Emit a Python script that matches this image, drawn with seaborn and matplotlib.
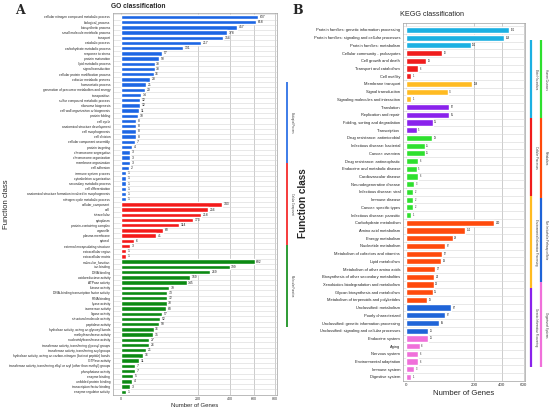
import numpy as np
import matplotlib
matplotlib.use("Agg")
import matplotlib.pyplot as plt
from matplotlib.lines import Line2D
import seaborn as sns

# ---------------- GO data ----------------
go_bp_terms = [
    "cellular nitrogen compound metabolic process", "biological_process", "biosynthetic process",
    "small molecule metabolic process", "transport", "catabolic process",
    "carbohydrate metabolic process", "response to stress", "protein maturation",
    "lipid metabolic process", "signal transduction", "cellular protein modification process",
    "cofactor metabolic process", "homeostatic process",
    "generation of precursor metabolites and energy", "transposition",
    "sulfur compound metabolic process", "ribosome biogenesis",
    "cell wall organization or biogenesis", "protein folding", "cell cycle",
    "anatomical structure development", "cell morphogenesis", "cell division",
    "cellular component assembly", "protein targeting", "chromosome segregation",
    "chromosome organization", "membrane organization", "cell adhesion",
    "immune system process", "cytoskeleton organization", "secondary metabolic process",
    "cell differentiation", "anatomical structure formation involved in morphogenesis",
    "nitrogen cycle metabolic process",
]
go_bp_counts = [637, 618, 457, 378, 354, 217, 131, 57, 50, 38, 38, 36, 28, 21, 20, 14,
                12, 12, 11, 10, 8, 8, 8, 8, 7, 4, 3, 3, 3, 2, 1, 1, 1, 1, 1, 1]

go_cc_terms = [
    "cellular_component", "cell", "intracellular", "cytoplasm", "protein-containing complex",
    "organelle", "plasma membrane", "cytosol", "external encapsulating structure",
    "extracellular region", "extracellular matrix",
]
go_cc_counts = [343, 256, 218, 173, 114, 60, 41, 6, 3, 1, 1]

go_mf_terms = [
    "molecular_function", "ion binding", "DNA binding", "oxidoreductase activity",
    "ATPase activity", "kinase activity", "DNA-binding transcription factor activity",
    "RNA binding", "lyase activity", "isomerase activity", "ligase activity",
    "structural molecule activity", "peptidase activity",
    "hydrolase activity, acting on glycosyl bonds", "methyltransferase activity",
    "nucleotidyltransferase activity", "transferase activity, transferring glycosyl groups",
    "transferase activity, transferring acyl groups",
    "hydrolase activity, acting on carbon-nitrogen (but not peptide) bonds",
    "GTPase activity",
    "transferase activity, transferring alkyl or aryl (other than methyl) groups",
    "phosphatase activity", "enzyme binding", "unfolded protein binding",
    "transcription factor binding", "enzyme regulator activity",
]
go_mf_counts = [602, 399, 269, 159, 145, 79, 73, 72, 70, 68, 57, 52, 50, 36, 35, 27, 26,
                21, 16, 11, 7, 7, 5, 4, 3, 1]

go_groups = ["Biological Process", "Cellular Component", "Molecular Function"]
go_colors = ["#1c66e4", "#f41a1a", "#0b8a12"]

# ---------------- KEGG data ----------------
kegg_terms = [
    "Protein families: genetic information processing",
    "Protein families: signaling and cellular processes",
    "Protein families: metabolism",
    "Cellular community - prokaryotes", "Cell growth and death", "Transport and catabolism",
    "Cell motility",
    "Membrane transport", "Signal transduction", "Signaling molecules and interaction",
    "Translation", "Replication and repair", "Folding, sorting and degradation", "Transcription",
    "Drug resistance: antimicrobial", "Infectious disease: bacterial", "Cancer: overview",
    "Drug resistance: antineoplastic", "Endocrine and metabolic disease",
    "Cardiovascular disease", "Neurodegenerative disease", "Infectious disease: viral",
    "Immune disease", "Cancer: specific types", "Infectious disease: parasitic",
    "Carbohydrate metabolism", "Amino acid metabolism", "Energy metabolism",
    "Nucleotide metabolism", "Metabolism of cofactors and vitamins", "Lipid metabolism",
    "Metabolism of other amino acids", "Biosynthesis of other secondary metabolites",
    "Xenobiotics biodegradation and metabolism", "Glycan biosynthesis and metabolism",
    "Metabolism of terpenoids and polyketides",
    "Unclassified: metabolism", "Poorly characterized",
    "Unclassified: genetic information processing",
    "Unclassified: signaling and cellular processes",
    "Endocrine system", "Aging", "Nervous system", "Environmental adaptation",
    "Immune system", "Digestive system",
]
kegg_counts = [461, 419, 181, 56, 18, 6, 1, 188, 75, 1, 82, 81, 31, 5, 29, 15, 15, 6, 5, 6,
               3, 2, 2, 2, 1, 340, 152, 94, 67, 57, 53, 37, 34, 33, 31, 19, 87, 67, 48, 21,
               21, 8, 6, 6, 3, 1]
kegg_group_sizes = [3, 4, 3, 4, 11, 11, 4, 6]
kegg_groups = ["Brite Hierarchies", "Cellular Processes",
               "Environmental Information Processing", "Genetic Information Processing",
               "Human Diseases", "Metabolism", "Not Included in Pathway or Brite",
               "Organismal Systems"]
kegg_colors = ["#1cb0e2", "#f01c1c", "#ffbb22", "#8a22ec", "#2ee02e", "#ff4a0c",
               "#1f64d8", "#f070da"]

W, H = 550, 412


def fwd(x):
    x = np.asarray(x, dtype=float)
    return np.sign(x) * np.sqrt(np.abs(x))


def inv(x):
    x = np.asarray(x, dtype=float)
    return np.sign(x) * x ** 2


def px_axes(fig, l, t, r, b):
    return fig.add_axes([l / W, 1 - b / H, (r - l) / W, (b - t) / H])


def style_axes(ax, n, ylim, tick_fs):
    ax.set_xscale("function", functions=(fwd, inv))
    ax.set_ylim(*ylim)
    ax.set_yticks(np.arange(n) - 0.5, minor=True)
    ax.grid(False)
    ax.grid(axis="y", which="minor", color="#d6d6d6", lw=0.4)
    ax.grid(axis="x", which="major", color="#c4c4c4", lw=0.6)
    ax.set_axisbelow(True)
    ax.tick_params(axis="y", which="minor", length=0)
    ax.tick_params(axis="y", which="major", length=1.2, width=0.3, pad=0.8,
                   labelsize=tick_fs, colors="#222222")
    ax.tick_params(axis="x", length=0, pad=1.5)
    for s in ax.spines.values():
        s.set_color("#a0a0a0")
        s.set_linewidth(0.5)
    ax.set_xlabel("")
    ax.set_ylabel("")


def legend_segment(fig, x, y0, y1, color, label, fs, lw=1.3):
    fig.add_artist(Line2D([x / W, x / W], [1 - y0 / H, 1 - y1 / H], color=color, lw=lw,
                          transform=fig.transFigure, solid_capstyle="butt"))
    fig.text((x + 5) / W, 1 - (y0 + y1) / 2 / H, label, rotation=270, ha="center",
             va="center", fontsize=fs, color="#333333")


sns.set_theme(style="white")
plt.rcParams["font.family"] = ["Liberation Sans", "DejaVu Sans"]

fig = plt.figure(figsize=(5.5, 4.12), dpi=100)

# ---------------- Panel A: GO ----------------
go_terms = go_bp_terms + go_cc_terms + go_mf_terms
go_counts = go_bp_counts + go_cc_counts + go_mf_counts
go_bar_colors = ([go_colors[0]] * len(go_bp_terms) + [go_colors[1]] * len(go_cc_terms)
                 + [go_colors[2]] * len(go_mf_terms))

axA = px_axes(fig, 113, 13, 277, 395)
sns.barplot(x=go_counts, y=go_terms, hue=go_terms, palette=go_bar_colors, legend=False,
            orient="h", width=0.85, saturation=1, ax=axA)
style_axes(axA, len(go_terms), (len(go_terms) - 1 + 0.6, -0.75), 2.3)
axA.set_xlim(-2.16, 822)
axA.set_xticks([0, 200, 400, 600, 800])
axA.tick_params(axis="x", labelsize=2.6, colors="#333333")
for c in axA.containers:
    axA.bar_label(c, padding=1.2, fontsize=2.4, color="#222222")
axA.set_xlabel("Number of Genes", fontsize=4.3, labelpad=1.5)

fig.text(138 / W, 1 - 6 / H, "GO classification", fontsize=4.8, fontweight="bold",
         ha="center", va="center")
fig.text(20 / W, 1 - 11 / H, "A", fontsize=9, fontweight="bold", family="DejaVu Serif",
         ha="center", va="center")
fig.text(6 / W, 1 - 204 / H, "Function class", fontsize=5.6, rotation=90,
         ha="center", va="center")

go_spans = [(82, 163), (163, 245), (245, 327)]
for (y0, y1), col, lab in zip(go_spans, go_colors, go_groups):
    legend_segment(fig, 287, y0, y1, col, lab, 1.8, lw=1.2)

# ---------------- Panel B: KEGG ----------------
kegg_bar_colors = []
for size, col in zip(kegg_group_sizes, kegg_colors):
    kegg_bar_colors += [col] * size

axB = px_axes(fig, 403, 23, 525, 381)
sns.barplot(x=kegg_counts, y=kegg_terms, hue=kegg_terms, palette=kegg_bar_colors,
            legend=False, orient="h", width=0.8, saturation=1, ax=axB)
style_axes(axB, len(kegg_terms), (len(kegg_terms) - 1 + 0.52, -0.9), 2.9)
axB.set_xlim(-0.39, 615)
axB.set_xticks([0, 200, 400, 600])
axB.tick_params(axis="x", labelsize=3.2, colors="#333333")
for c in axB.containers:
    axB.bar_label(c, padding=1.2, fontsize=1.8, color="#222222")
axB.set_xlabel("Number of Genes", fontsize=5.6, labelpad=2)

fig.text(432 / W, 1 - 15 / H, "KEGG classification", fontsize=5.2,
         ha="center", va="center")
fig.text(298 / W, 1 - 11 / H, "B", fontsize=9, fontweight="bold", family="DejaVu Serif",
         ha="center", va="center")
fig.text(303 / W, 1 - 203 / H, "Function class", fontsize=7.2, fontweight="bold",
         rotation=90, ha="center", va="center")

left_spans = [(40, 118), (118, 196), (196, 288), (288, 367)]
right_spans = [(40, 118), (118, 198), (198, 282), (282, 367)]
for i, (y0, y1) in enumerate(left_spans):
    legend_segment(fig, 531, y0, y1, kegg_colors[i], kegg_groups[i], 2.0, lw=1.6)
for i, (y0, y1) in enumerate(right_spans):
    legend_segment(fig, 541, y0, y1, kegg_colors[i + 4], kegg_groups[i + 4], 2.0, lw=1.6)

fig.savefig("out.png", dpi=100)
